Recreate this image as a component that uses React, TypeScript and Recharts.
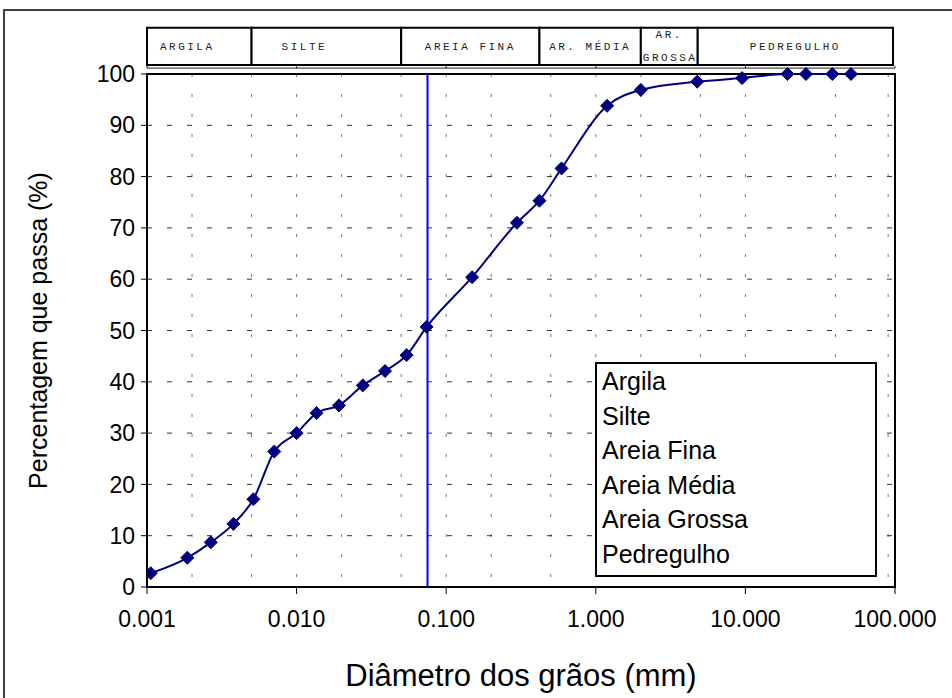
import {
  CartesianGrid,
  ComposedChart,
  Line,
  ReferenceArea,
  ReferenceLine,
  XAxis,
  YAxis,
} from "recharts";

// curva granulométrica: diâmetro (mm) x % que passa
const DIAMETERS = [
  0.00106, 0.00186, 0.00267, 0.00378, 0.00514, 0.00709, 0.01, 0.0136, 0.0192,
  0.0277, 0.039, 0.0544, 0.074, 0.149, 0.297, 0.42, 0.59, 1.19, 2.0, 4.76, 9.5,
  19.1, 25.4, 38.1, 50.8,
];
const PASSING = [
  2.7, 5.7, 8.7, 12.3, 17.1, 26.4, 30.0, 33.9, 35.4, 39.3, 42.1, 45.2, 50.7,
  60.4, 71.0, 75.3, 81.6, 93.8, 96.9, 98.5, 99.2, 100, 100, 100, 100,
];
const X_TICKS = [0.001, 0.01, 0.1, 1, 10, 100];
const Y_TICKS = [0, 10, 20, 30, 40, 50, 60, 70, 80, 90, 100];
const MULTIPLIERS = [1, 2, 3, 4, 5, 6, 7, 8, 9];

const BAND_NAMES = ["ARGILA", "SILTE", "AREIA FINA", "AR. MÉDIA", "AR. GROSSA", "PEDREGULHO"];
const BAND_LIMITS = [0.001, 0.005, 0.05, 0.42, 2.0, 4.8, 97];

const LEGEND_ITEMS = ["Argila", "Silte", "Areia Fina", "Areia Média", "Areia Grossa", "Pedregulho"];
const SIEVE_200 = 0.075;

const data = DIAMETERS.map((d, i) => ({ d, p: PASSING[i] }));

// linhas verticais pontilhadas nos 1..9 de cada década (menos as bordas)
const minorGrid = X_TICKS.slice(0, -1)
  .flatMap((t) => MULTIPLIERS.map((m) => t * m))
  .filter((v) => v > 0.0011);

const SANS = "'Liberation Sans', Arial, sans-serif";
const MONO = "'Liberation Mono', 'DejaVu Sans Mono', monospace";
const NAVY = "#000080";

function Diamond(props: any) {
  const { cx, cy, index } = props;
  if (cx == null || cy == null) return <g key={index} />;
  const r = 6.5;
  return (
    <path
      key={index}
      d={`M${cx},${cy - r}L${cx + r},${cy}L${cx},${cy + r}L${cx - r},${cy}Z`}
      fill={NAVY}
      stroke={NAVY}
    />
  );
}

function BandLabel(props: any) {
  const { viewBox, name } = props;
  const { x, y, width, height } = viewBox;
  const style = { fontFamily: MONO, fontSize: 11, letterSpacing: 2.5, fill: "#222" };
  if (name === "AR. GROSSA") {
    return (
      <g>
        <text x={x + width / 2} y={y + 10} textAnchor="middle" style={style}>
          AR.
        </text>
        <text x={x + 2} y={y + height - 4} textAnchor="start" style={style}>
          GROSSA
        </text>
      </g>
    );
  }
  // argila e silte ficam deslocados pra esquerda no original
  const shift = name === "ARGILA" ? -12 : name === "SILTE" ? -22 : 0;
  return (
    <text
      x={x + width / 2 + shift}
      y={y + height / 2 + 4}
      textAnchor="middle"
      style={style}
    >
      {name}
    </text>
  );
}

export default function App() {
  return (
    <div
      style={{
        position: "absolute",
        left: 0,
        top: 0,
        width: 952,
        height: 698,
        overflow: "hidden",
        background: "#fff",
      }}
    >
      <div
        style={{
          position: "absolute",
          left: 3,
          top: 9,
          width: 1000,
          height: 800,
          border: "2px solid #404040",
        }}
      />
      <div style={{ position: "absolute", left: 0, top: 0 }}>
        <ComposedChart
          width={952}
          height={698}
          data={data}
          margin={{ top: 74, right: 57, bottom: 0, left: 0 }}
        >
          <CartesianGrid
            horizontal={false}
            vertical
            verticalValues={minorGrid}
            stroke="#777"
            strokeDasharray="3 17"
          />
          <CartesianGrid
            vertical={false}
            horizontal
            stroke="#333"
            strokeDasharray="5 15"
          />
          <XAxis
            dataKey="d"
            type="number"
            scale="log"
            domain={[0.001, 100]}
            ticks={X_TICKS}
            allowDataOverflow
            tickFormatter={(v: number) => v.toFixed(3)}
            tick={{ fontSize: 23, fontFamily: SANS, fill: "#000" }}
            tickSize={7}
            tickMargin={17}
            height={111}
            axisLine={{ stroke: "#000", strokeWidth: 2 }}
            tickLine={{ stroke: "#000" }}
            label={{
              value: "Diâmetro dos grãos (mm)",
              position: "insideBottom",
              offset: 12,
              style: { fontSize: 31, fontFamily: SANS, fill: "#000" },
            }}
          />
          <YAxis
            type="number"
            domain={[0, 100]}
            ticks={Y_TICKS}
            width={147}
            tick={{ fontSize: 23, fontFamily: SANS, fill: "#000" }}
            tickSize={6}
            tickMargin={6}
            axisLine={{ stroke: "#000", strokeWidth: 2 }}
            tickLine={{ stroke: "#000" }}
            label={{
              value: "Percentagem que passa (%)",
              angle: -90,
              position: "insideLeft",
              offset: 38,
              style: { fontSize: 25, fontFamily: SANS, fill: "#000", textAnchor: "middle" },
            }}
          />
          <ReferenceArea
            x1={0.001}
            x2={100}
            y1={0}
            y2={100}
            fill="none"
            fillOpacity={0}
            stroke="#000"
            strokeWidth={2}
            ifOverflow="visible"
          />
          {BAND_NAMES.map((name, i) => (
            <ReferenceArea
              key={name}
              x1={BAND_LIMITS[i]}
              x2={BAND_LIMITS[i + 1]}
              y1={101.75}
              y2={109}
              fill="#fff"
              fillOpacity={1}
              stroke="#000"
              strokeWidth={2}
              ifOverflow="visible"
              label={(p: any) => <BandLabel {...p} name={name} />}
            />
          ))}
          <ReferenceLine y={101.15} stroke="#222" strokeWidth={1} ifOverflow="visible" />
          {X_TICKS.map((t) => (
            <ReferenceLine
              key={`ht-${t}`}
              segment={[
                { x: t, y: 101.15 },
                { x: t, y: 101.6 },
              ]}
              stroke="#222"
              ifOverflow="visible"
            />
          ))}
          <ReferenceLine x={SIEVE_200} stroke="#0000ff" strokeWidth={2} />
          <Line
            dataKey="p"
            type="monotone"
            stroke={NAVY}
            strokeWidth={2}
            dot={(p: any) => <Diamond {...p} />}
            activeDot={false}
            isAnimationActive={false}
          />
        </ComposedChart>
      </div>
      <div
        style={{
          position: "absolute",
          left: 595,
          top: 362,
          width: 273,
          height: 211,
          border: "2px solid #000",
          background: "#fff",
          fontFamily: SANS,
          fontSize: 25,
          lineHeight: "34.5px",
          paddingLeft: 5,
          boxSizing: "content-box",
        }}
      >
        {LEGEND_ITEMS.map((t) => (
          <div key={t}>{t}</div>
        ))}
      </div>
    </div>
  );
}
